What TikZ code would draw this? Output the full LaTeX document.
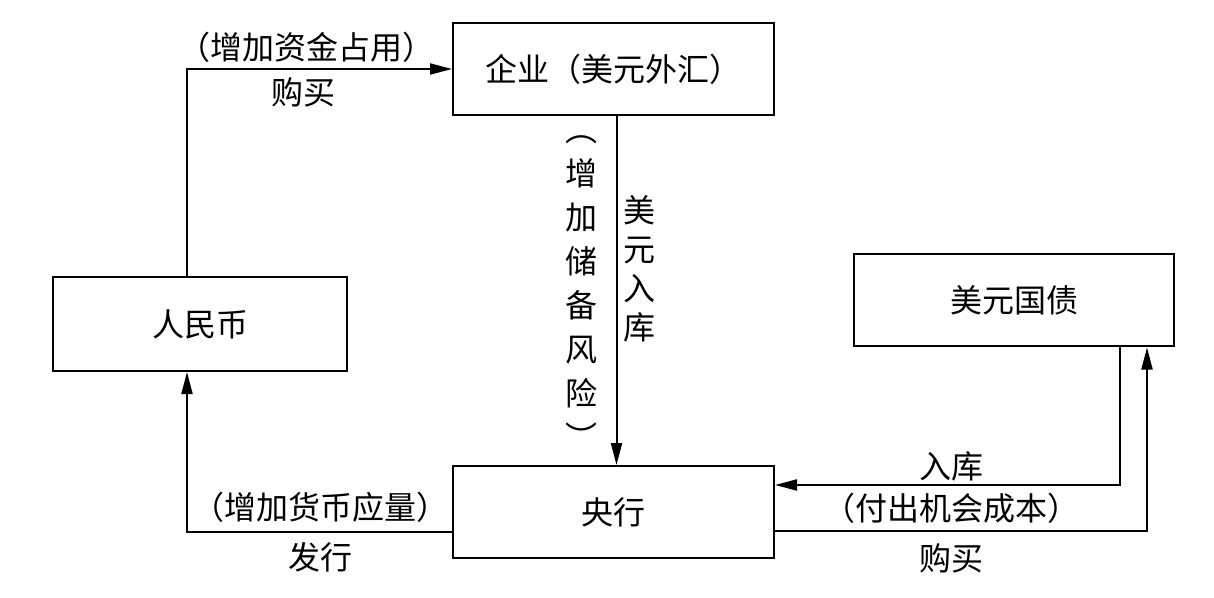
\documentclass[tikz,border=0pt]{standalone}
\usepackage{fontspec}
\newfontfamily\cjk{Noto Sans CJK SC}
\usetikzlibrary{arrows.meta}

\begin{document}
\begin{tikzpicture}[>={Triangle[length=11pt,width=5.5pt]},x=0.5pt,y=-0.5pt,line width=1pt,
    every node/.style={font=\cjk\fontsize{16}{22}\selectfont,inner sep=0pt},
    box/.style={draw,line width=1pt,minimum width=160.5pt,minimum height=46pt}]
    \useasboundingbox (0,0) rectangle (1214,598);
    % boxes
    \node[box] (qiye) at (613.5,69) {企业（美元外汇）};
    \node[box,minimum width=147pt,minimum height=47pt] (rmb) at (200,324) {人民币};
    \node[box,minimum width=160pt] (guozhai) at (1014,300.5) {美元国债};
    \node[box] (yanghang) at (613.5,512) {央行};
    % connectors
    \draw[->] ([xshift=-6.5pt]rmb.north) |- (qiye.west);
    \draw[->] ([xshift=1.5pt]qiye.south) -- ([xshift=1.5pt]yanghang.north);
    \draw[->] ([yshift=-10pt]yanghang.west) -| ([xshift=-6.5pt]rmb.south);
    \draw[->] ([xshift=53pt]guozhai.south) |- ([yshift=13.5pt]yanghang.east);
    \draw[->] ([yshift=-9.5pt]yanghang.east) -| ([xshift=66.5pt]guozhai.south);
    % labels
    \node (zhanyong) at (306,47) {（增加资金占用）};
    \node (goumai1) at (303,92) {购买};
    \node[align=center] (fengxian) at (581,293) {︵\\增\\加\\储\\备\\风\\险\\︶};
    \node[align=center,font=\cjk\fontsize{16}{19.5}\selectfont] (ruku1) at (639,269) {美\\元\\入\\库};
    \node (huobi) at (320,507) {（增加货币应量）};
    \node (faxing) at (320,557) {发行};
    \node (ruku2) at (951,466) {入库};
    \node (chengben) at (951,508) {（付出机会成本）};
    \node (goumai2) at (951,558) {购买};
\end{tikzpicture}
\end{document}
